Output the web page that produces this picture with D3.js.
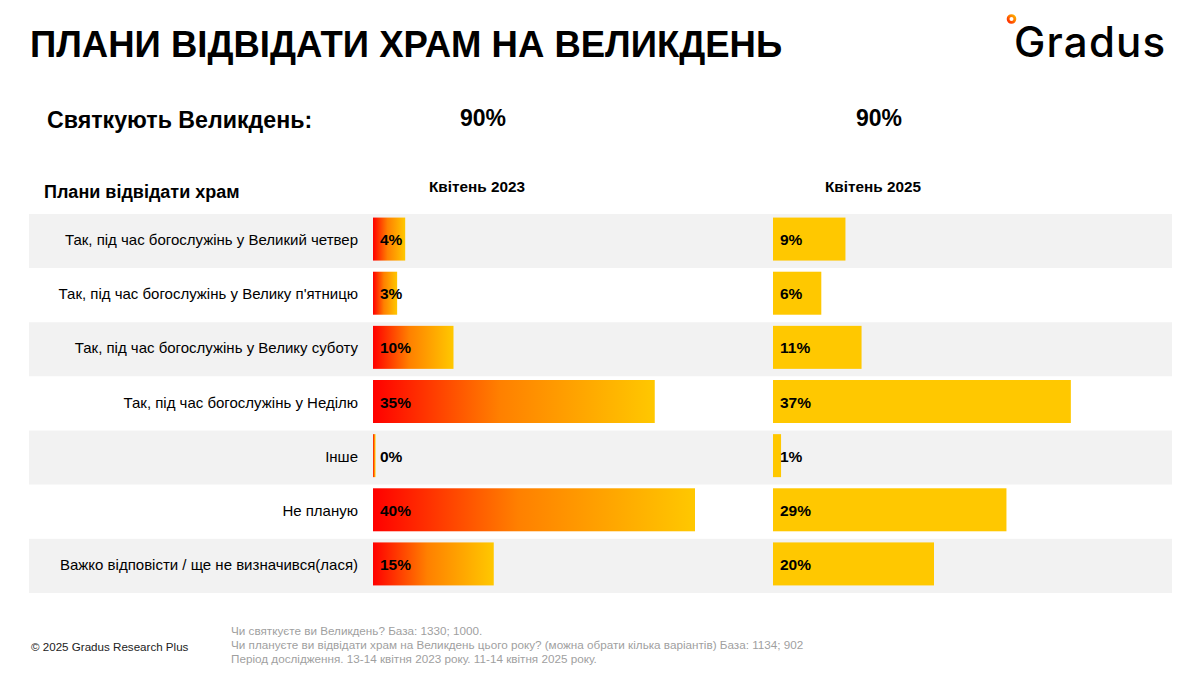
<!DOCTYPE html>
<html>
<head>
<meta charset="utf-8">
<script src="https://cdn.jsdelivr.net/npm/d3@7"></script>
<style>
  body { margin: 0; background: #fff; }
  svg { display: block; font-family: "Liberation Sans", Arial, sans-serif; }
</style>
</head>
<body>
<svg id="chart" width="1200" height="675"></svg>
<script>
const categories = [
  "Так, під час богослужінь у Великий четвер",
  "Так, під час богослужінь у Велику п'ятницю",
  "Так, під час богослужінь у Велику суботу",
  "Так, під час богослужінь у Неділю",
  "Інше",
  "Не планую",
  "Важко відповісти / ще не визначився(лася)"
];
const values2023 = [4, 3, 10, 35, 0, 40, 15];
const values2025 = [9, 6, 11, 37, 1, 29, 20];
const periods = ["Квітень 2023", "Квітень 2025"];
const celebrate = [90, 90];
const notes = [
  "Чи святкуєте ви Великдень? База: 1330; 1000.",
  "Чи плануєте ви відвідати храм на Великдень цього року? (можна обрати кілька варіантів) База: 1134; 902",
  "Період дослідження. 13-14 квітня 2023 року. 11-14 квітня 2025 року."
];

const svg = d3.select("#chart");

// gradient for 2023 bars
const defs = svg.append("defs");
const grad = defs.append("linearGradient").attr("id", "g2023")
  .attr("x1", "0%").attr("x2", "100%").attr("y1", "0%").attr("y2", "0%");
grad.append("stop").attr("offset", "0%").attr("stop-color", "#ff0000");
grad.append("stop").attr("offset", "45%").attr("stop-color", "#ff8000");
grad.append("stop").attr("offset", "100%").attr("stop-color", "#ffc800");
const lg = defs.append("linearGradient").attr("id", "logoGrad")
  .attr("x1", "0%").attr("x2", "100%").attr("y1", "100%").attr("y2", "0%");
lg.append("stop").attr("offset", "0%").attr("stop-color", "#ff2a00");
lg.append("stop").attr("offset", "100%").attr("stop-color", "#ffb000");

// title
svg.append("text").attr("x", 30).attr("y", 57)
  .attr("font-size", 36.5).attr("font-weight", "bold").attr("fill", "#000")
  .text("ПЛАНИ ВІДВІДАТИ ХРАМ НА ВЕЛИКДЕНЬ");

// logo
svg.append("circle").attr("cx", 1011.5).attr("cy", 19).attr("r", 3.4)
  .attr("fill", "none").attr("stroke", "url(#logoGrad)").attr("stroke-width", 2.8);
svg.append("text").attr("x", 1014).attr("y", 57)
  .attr("font-family", "Inter, 'Noto Sans', sans-serif")
  .attr("font-size", 42).attr("font-weight", 500).attr("fill", "#000").attr("letter-spacing", 1.2)
  .text("Gradus");

// scales
const y = d3.scaleBand().domain(categories).range([214, 593]).paddingInner(0).paddingOuter(0);
const x23 = d3.scaleLinear().domain([0, 40]).range([373, 695]);
const x25 = d3.scaleLinear().domain([0, 40]).range([773, 1095]);
const colCenters = [477, 873];

// top row
svg.append("text").attr("x", 47).attr("y", 128)
  .attr("font-size", 23.2).attr("font-weight", "bold").text("Святкують Великдень:");
svg.selectAll("text.cel").data(celebrate).join("text").attr("class", "cel")
  .attr("x", (d, i) => [483, 879][i]).attr("y", 126)
  .attr("text-anchor", "middle").attr("font-size", 23).attr("font-weight", "bold")
  .text(d => d + "%");

svg.append("text").attr("x", 44).attr("y", 198)
  .attr("font-size", 18).attr("font-weight", "bold").text("Плани відвідати храм");
svg.selectAll("text.per").data(periods).join("text").attr("class", "per")
  .attr("x", (d, i) => colCenters[i]).attr("y", 192)
  .attr("text-anchor", "middle").attr("font-size", 15.3).attr("font-weight", "bold")
  .text(d => d);

// row backgrounds
svg.selectAll("rect.bg").data(categories).join("rect").attr("class", "bg")
  .attr("x", 29).attr("width", 1143)
  .attr("y", d => y(d)).attr("height", y.bandwidth())
  .attr("fill", (d, i) => i % 2 === 0 ? "#f2f2f2" : "#ffffff");

// category labels
svg.selectAll("text.cat").data(categories).join("text").attr("class", "cat")
  .attr("x", 358).attr("y", d => y(d) + y.bandwidth() / 2 + 4)
  .attr("text-anchor", "end").attr("font-size", 15).attr("fill", "#000")
  .text(d => d);

const barH = 43;
const barOff = (y.bandwidth() - barH) / 2 - 2;

function drawSeries(vals, x, fill, cls) {
  svg.selectAll("rect." + cls).data(vals).join("rect").attr("class", cls)
    .attr("x", x(0))
    .attr("y", (d, i) => y(categories[i]) + barOff)
    .attr("width", d => Math.max(x(d) - x(0), 2.5))
    .attr("height", barH)
    .attr("fill", fill);
  svg.selectAll("text." + cls).data(vals).join("text").attr("class", cls)
    .attr("x", x(0) + 7)
    .attr("y", (d, i) => y(categories[i]) + y.bandwidth() / 2 + 4)
    .attr("font-size", 15.5).attr("font-weight", "bold").attr("fill", "#000")
    .text(d => d + "%");
}
drawSeries(values2023, x23, "url(#g2023)", "b23");
drawSeries(values2025, x25, "#ffc800", "b25");

// footer
svg.append("text").attr("x", 31).attr("y", 651)
  .attr("font-size", 11.6).attr("fill", "#222").text("© 2025 Gradus Research Plus");
svg.selectAll("text.note").data(notes).join("text").attr("class", "note")
  .attr("x", 231).attr("y", (d, i) => 635 + i * 14)
  .attr("font-size", 11.7).attr("fill", "#9f9f9f").text(d => d);
</script>
</body>
</html>
